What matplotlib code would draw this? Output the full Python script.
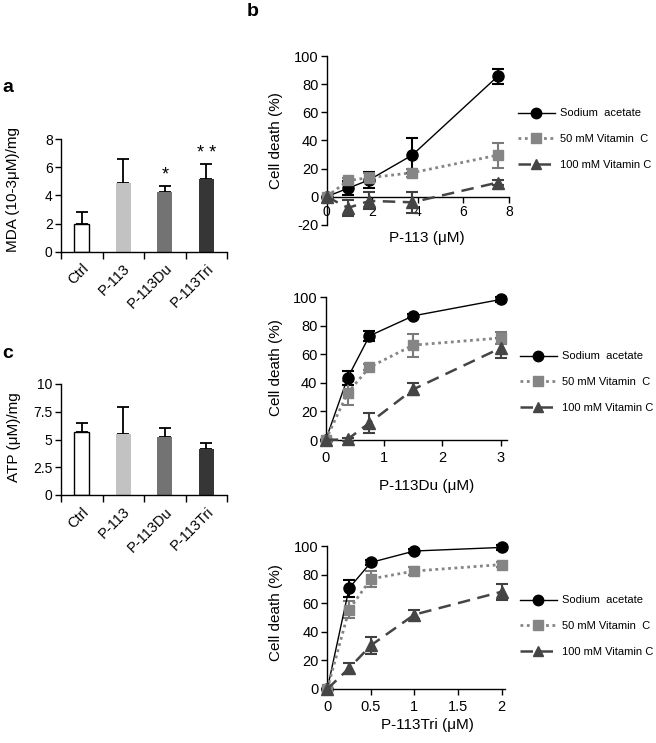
import matplotlib
matplotlib.use('Agg')
import matplotlib.pyplot as plt
from matplotlib.lines import Line2D

plt.rcParams['font.family'] = ['Liberation Sans', 'DejaVu Sans']
plt.rcParams['axes.linewidth'] = 1.0

# ---------------- data ----------------
bar_cats = ['Ctrl', 'P-113', 'P-113Du', 'P-113Tri']
mda_vals = [1.95, 4.9, 4.25, 5.2]
mda_err = [0.85, 1.7, 0.45, 1.05]
mda_sig = ['', '', '*', '* *']
atp_vals = [5.7, 5.5, 5.2, 4.12]
atp_err = [0.75, 2.45, 0.85, 0.55]

series_labels = ['Sodium  acetate', '50 mM Vitamin  C', '100 mM Vitamin C']

p113_x = [0, 0.9375, 1.875, 3.75, 7.5]
p113_na = [0, 6, 12, 29.5, 85.5]
p113_na_err = [0, 5, 5.5, 12.5, 5.5]
p113_vc50 = [0, 11.5, 13.5, 17, 29.5]
p113_vc50_err = [0, 2, 3, 3, 9]
p113_vc100 = [0, -8, -3, -4, 10]
p113_vc100_err = [0, 5.5, 6, 7.5, 2]

du_x = [0, 0.375, 0.75, 1.5, 3]
du_na = [0, 43.5, 73, 87, 98.5]
du_na_err = [0, 5, 3.5, 1.5, 1.5]
du_vc50 = [0, 33, 51, 66.5, 71.5]
du_vc50_err = [0, 8.5, 2, 8, 4]
du_vc100 = [0, 0.5, 12, 35.5, 64.5]
du_vc100_err = [0, 1, 7, 4.2, 7]

tri_x = [0, 0.25, 0.5, 1, 2]
tri_na = [0, 70.5, 88.5, 96.5, 99]
tri_na_err = [0, 6, 1.5, 1.5, 1.5]
tri_vc50 = [0, 55.5, 77, 82.5, 87]
tri_vc50_err = [0, 6, 5.5, 2.5, 2]
tri_vc100 = [0, 14.5, 30.5, 52, 68]
tri_vc100_err = [0, 3.5, 5.8, 3, 5.7]

# ---------------- styles ----------------
bar_colors = ['white', '#c2c2c2', '#737373', '#363636']
styles = [
    dict(color='black', marker='o', ms=8, ls='-', lw=1.0, ecolor='black'),
    dict(color='#858585', marker='s', ms=7, ls=(0, (1, 1.3)), lw=2.0, ecolor='#7a7a7a'),
    dict(color='#454545', marker='^', ms=8, ls=(0, (5, 3)), lw=1.8, ecolor='#404040'),
]

W, H = 656, 743
fig = plt.figure(figsize=(W / 100, H / 100), dpi=100)


def ax_px(l, t, r, b):
    return fig.add_axes([l / W, 1 - b / H, (r - l) / W, (b - t) / H])


def label_px(ax, which, x, y):
    lab = ax.xaxis if which == 'x' else ax.yaxis
    lab.set_label_coords(x / W, 1 - y / H, transform=fig.transFigure)
    lab.label.set_va('center')
    lab.label.set_ha('center')


def bar_panel(ax, vals, errs, ylim, yticks, yticklabels, ylabel, lx, ly):
    x = list(range(len(bar_cats)))
    ax.bar(x, vals, width=0.36, color=bar_colors, edgecolor=['black', 'none', 'none', 'none'],
           linewidth=1.0, zorder=2)
    ax.errorbar(x, vals, yerr=[[0] * len(vals), errs], fmt='none', ecolor='black',
                elinewidth=1.3, capsize=4.5, capthick=1.3, zorder=1)
    ax.set_xlim(-0.5, 3.5)
    ax.set_ylim(*ylim)
    ax.set_yticks(yticks)
    ax.set_yticklabels(yticklabels, fontsize=10)
    ax.set_xticks(x)
    ax.set_xticklabels(bar_cats, rotation=45, ha='right', rotation_mode='anchor', fontsize=10.5)
    ax.set_xticks([-0.5, 0.5, 1.5, 2.5, 3.5], minor=True)
    ax.tick_params(axis='x', which='major', length=0, pad=7)
    ax.tick_params(axis='x', which='minor', length=5, width=1.0, direction='out')
    ax.tick_params(axis='y', length=4, width=1.0, direction='out', pad=2)
    for s in ['top', 'right']:
        ax.spines[s].set_visible(False)
    ax.set_ylabel(ylabel, fontsize=11)
    label_px(ax, 'y', lx, ly)


# panel a
axa = ax_px(61, 139.3, 227, 251.7)
bar_panel(axa, mda_vals, mda_err, (0, 8), [0, 2, 4, 6, 8], ['0', '2', '4', '6', '8'],
          'MDA (10-3μM)/mg', 13, 189)
for i, s in enumerate(mda_sig):
    if s:
        axa.text(i, mda_vals[i] + mda_err[i] + 0.75, s, ha='center', va='center', fontsize=13)

# panel c
axc = ax_px(61, 384, 227, 495)
bar_panel(axc, atp_vals, atp_err, (0, 10), [0, 2.5, 5, 7.5, 10], ['0', '2.5', '5', '7.5', '10'],
          'ATP (μM)/mg', 14, 437)


def line_panel(ax, xs, ys, errs, xlim, xticks, xticklabels, ylim, yticks, xlabel, xl_y, yl_y, xpad=2):
    for y, e, st in zip(ys, errs, styles):
        ax.errorbar(xs, y, yerr=e, color=st['color'], marker=st['marker'], ms=st['ms'],
                    mec=st['color'], mfc=st['color'], ls=st['ls'], lw=st['lw'],
                    ecolor=st['ecolor'], elinewidth=1.5, capsize=4, capthick=1.5,
                    clip_on=False, zorder=3)
    ax.set_xlim(*xlim)
    ax.set_ylim(*ylim)
    ax.set_xticks(xticks)
    ax.set_xticklabels(xticklabels, fontsize=10.5)
    ax.set_yticks(yticks)
    ax.set_yticklabels([str(t) for t in yticks], fontsize=10.5)
    ax.tick_params(length=4, width=1.0, direction='out', pad=2)
    ax.tick_params(axis='x', pad=xpad)
    for s in ['top', 'right']:
        ax.spines[s].set_visible(False)
    ax.set_xlabel(xlabel, fontsize=11)
    ax.set_ylabel('Cell death (%)', fontsize=11)
    label_px(ax, 'x', 427, xl_y)
    label_px(ax, 'y', 276, yl_y)


def legend_px(ax, x, y):
    handles = [Line2D([], [], color=st['color'], marker=st['marker'], ms=st['ms'] - 0.5,
                      mfc=st['color'], mec=st['color'], ls=st['ls'], lw=st['lw'])
               for st in styles]
    ax.legend(handles, series_labels, loc='center left', bbox_to_anchor=(x / W, 1 - y / H),
              bbox_transform=fig.transFigure, frameon=False, fontsize=8, handlelength=3.3,
              handletextpad=0.5, labelspacing=1.4, borderpad=0, borderaxespad=0, numpoints=1)


# panel b1
axb1 = ax_px(326.7, 56, 509, 224.8)
line_panel(axb1, p113_x, [p113_na, p113_vc50, p113_vc100],
           [p113_na_err, p113_vc50_err, p113_vc100_err],
           (0, 8), [0, 2, 4, 6, 8], ['0', '2', '4', '6', '8'],
           (-20, 100), [-20, 0, 20, 40, 60, 80, 100], 'P-113 (μM)', 238, 141)
axb1.spines['bottom'].set_position(('data', 0))
legend_px(axb1, 518, 139)

# panel b2
axb2 = ax_px(325.7, 297.3, 506.7, 440)
line_panel(axb2, du_x, [du_na, du_vc50, du_vc100],
           [du_na_err, du_vc50_err, du_vc100_err],
           (0, 3.1), [0, 1, 2, 3], ['0', '1', '2', '3'],
           (0, 100), [0, 20, 40, 60, 80, 100], 'P-113Du (μM)', 486, 368, xpad=4)
legend_px(axb2, 520, 382)

# panel b3
axb3 = ax_px(327.3, 546, 505, 689)
line_panel(axb3, tri_x, [tri_na, tri_vc50, tri_vc100],
           [tri_na_err, tri_vc50_err, tri_vc100_err],
           (0, 2.04), [0, 0.5, 1, 1.5, 2], ['0', '0.5', '1', '1.5', '2'],
           (0, 100), [0, 20, 40, 60, 80, 100], 'P-113Tri (μM)', 725, 613, xpad=4)
legend_px(axb3, 520, 626)

# panel letters
fig.text(2 / W, 1 - 92 / H, 'a', fontsize=14, fontweight='bold', va='baseline')
fig.text(247 / W, 1 - 16 / H, 'b', fontsize=14, fontweight='bold', va='baseline')
fig.text(2 / W, 1 - 358 / H, 'c', fontsize=14, fontweight='bold', va='baseline')

fig.savefig('out.png', dpi=100)
